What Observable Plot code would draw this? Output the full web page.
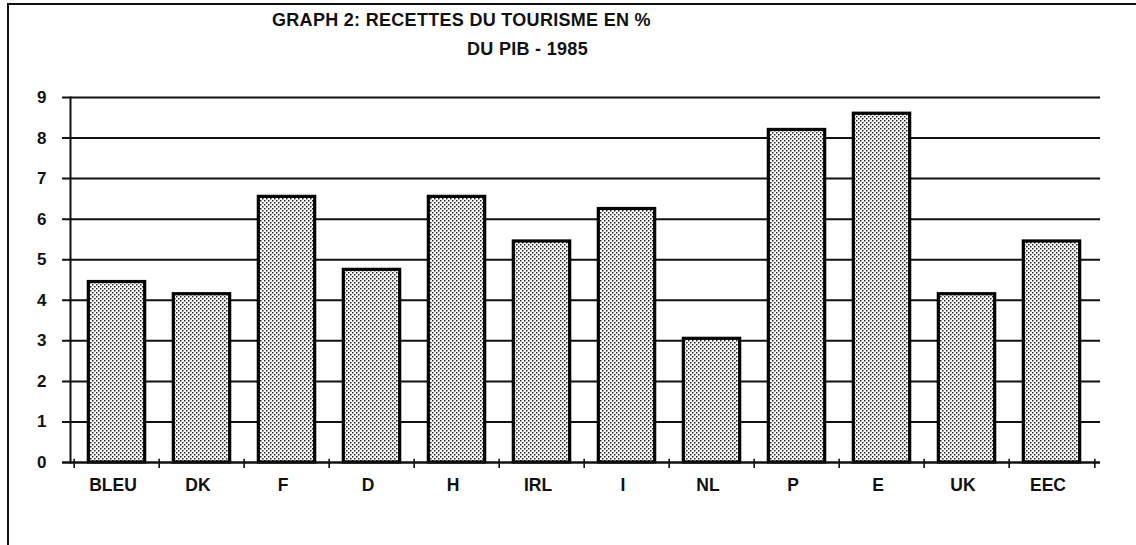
<!DOCTYPE html>
<html>
<head>
<meta charset="utf-8">
<script src="https://cdn.jsdelivr.net/npm/d3@7"></script>
<script src="https://cdn.jsdelivr.net/npm/@observablehq/plot@0.6"></script>
<style>
  html, body { margin: 0; padding: 0; background: #fff; }
  #wrap { position: relative; width: 1136px; height: 545px; overflow: hidden; font-family: "Liberation Sans", Arial, Helvetica, sans-serif; }
  .title { position: absolute; font-weight: bold; font-size: 18px; line-height: 18px; white-space: nowrap; color: #111; letter-spacing: 0.3px; }
  #frame { position: absolute; left: 7px; top: 3px; width: 1140px; height: 560px; border-left: 2px solid #111; border-top: 2px solid #111; box-sizing: border-box; }
  #chart { position: absolute; left: 0; top: 0; }
</style>
</head>
<body>
<div id="wrap">
  <div id="frame"></div>
  <div id="chart"></div>
  <div class="title" id="t1" style="left:272px; top:11px;">GRAPH 2: RECETTES DU TOURISME EN %</div>
  <div class="title" id="t2" style="left:467px; top:39.5px;">DU PIB - 1985</div>
</div>
<script>
const categories = ["BLEU", "DK", "F", "D", "H", "IRL", "I", "NL", "P", "E", "UK", "EEC"];
const values = [4.45, 4.15, 6.55, 4.75, 6.55, 5.45, 6.25, 3.05, 8.2, 8.6, 4.15, 5.45];
const yTicks = [0, 1, 2, 3, 4, 5, 6, 7, 8, 9];
const gridValues = [1, 2, 3, 4, 5, 6, 7, 8, 9];

const data = categories.map((c, i) => ({cat: c, val: values[i]}));

const W = 1136, H = 545;
const mL = 70, mR = 38, mT = 97, mB = 83;
const step = (W - mL - mR) / categories.length;
const barInset = (step - 57) / 2;

const plot = Plot.plot({
  width: W,
  height: H,
  marginLeft: mL,
  marginRight: mR,
  marginTop: mT,
  marginBottom: mB,
  style: {fontFamily: '"Liberation Sans", Arial, Helvetica, sans-serif', color: "#111", background: "transparent"},
  x: {domain: categories, padding: 0, align: 0.5, label: null},
  y: {domain: [0, 9], label: null},
  marks: [
    Plot.ruleY(gridValues, {stroke: "#111", strokeWidth: 2, insetLeft: -8, insetRight: -2}),
    Plot.barY(data, {x: "cat", y: "val", fill: "url(#dots)", stroke: "#000", strokeWidth: 3.2, insetLeft: barInset, insetRight: barInset}),
    Plot.frame({anchor: "left", stroke: "#111", strokeWidth: 2}),
    Plot.ruleY([0], {stroke: "#111", strokeWidth: 2.5, insetLeft: -8, insetRight: -2}),
    Plot.ruleX(categories, {x: d => d, y1: -0.15, y2: 0.08, dx: -step / 2, stroke: "#111", strokeWidth: 1.6}),
    Plot.ruleX(categories.slice(-1), {x: d => d, y1: -0.15, y2: 0.08, dx: step / 2, stroke: "#111", strokeWidth: 1.6}),
    Plot.axisY({ticks: yTicks, tickSize: 0, tickPadding: 24, fontSize: 17, fontWeight: "bold", label: null, tickFormat: d => String(d)}),
    Plot.axisX({tickSize: 0, tickPadding: 16, fontSize: 17.5, fontWeight: "bold", label: null, dx: -4})
  ]
});

// stipple pattern for bar fill
const ns = "http://www.w3.org/2000/svg";
const defs = document.createElementNS(ns, "defs");
defs.innerHTML = `
  <pattern id="dots" patternUnits="userSpaceOnUse" width="4" height="4">
    <rect width="4" height="4" fill="#ffffff"></rect>
    <rect x="0" y="0" width="1.5" height="1.5" fill="#222222"></rect>
    <rect x="2" y="2" width="1.5" height="1.5" fill="#222222"></rect>
  </pattern>`;
plot.insertBefore(defs, plot.firstChild);
document.getElementById("chart").appendChild(plot);
</script>
</body>
</html>
